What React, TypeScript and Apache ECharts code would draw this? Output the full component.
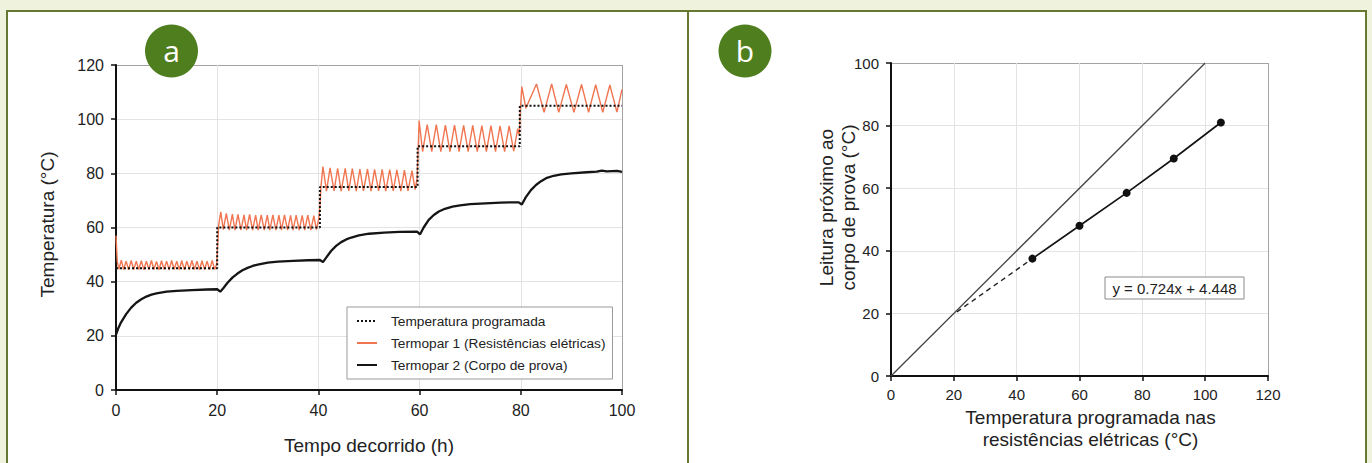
import React, { useEffect, useRef } from "react";
import * as echarts from "echarts";

// ---------- Panel a data ----------
const seriesNames = [
  "Temperatura programada",
  "Termopar 1 (Resistências elétricas)",
  "Termopar 2 (Corpo de prova)",
];

const programmed = [
  [0, 45], [20, 45], [20, 60], [40.3, 60], [40.3, 75], [59.6, 75],
  [59.6, 90], [79.8, 90], [79.8, 105], [100, 105],
];

const tc1Step1 = [
  [0, 57], [0.25, 47.5], [0.55, 44.6], [1.05, 47.9], [1.5, 44.5], [2.0, 47.6], [2.5, 44.4],
  [3.0, 47.8], [3.5, 44.5], [4.0, 47.6], [4.5, 44.5], [5.0, 47.7], [5.5, 44.4], [6.0, 47.6],
  [6.5, 44.5], [7.0, 47.8], [7.5, 44.5], [8.0, 47.5], [8.5, 44.4], [9.0, 47.7], [9.5, 44.5],
  [10.0, 47.6], [10.5, 44.4], [11.0, 47.8], [11.5, 44.5], [12.0, 47.6], [12.5, 44.5],
  [13.0, 47.7], [13.5, 44.4], [14.0, 47.6], [14.5, 44.5], [15.0, 47.8], [15.5, 44.5],
  [16.0, 47.6], [16.5, 44.4], [17.0, 47.7], [17.5, 44.5], [18.0, 47.6], [18.5, 44.4],
  [19.0, 47.8], [19.5, 44.5], [19.9, 46.5],
];
const tc1Step2 = [
  [20.0, 46.5], [20.3, 61], [20.7, 65.8], [21.2, 59.2], [21.8, 65.2], [22.4, 59], [23.0, 64.9],
  [23.5, 59], [24.1, 64.8], [24.7, 59], [25.3, 64.7], [25.8, 59], [26.4, 64.8], [27.0, 59],
  [27.6, 64.6], [28.1, 59], [28.7, 64.7], [29.3, 59], [29.9, 64.6], [30.4, 59], [31.0, 64.7],
  [31.6, 59], [32.2, 64.6], [32.7, 59], [33.3, 64.7], [33.9, 59], [34.5, 64.5], [35.0, 59],
  [35.6, 64.6], [36.2, 59], [36.8, 64.5], [37.3, 59], [37.9, 64.6], [38.5, 59], [39.1, 64.4],
  [39.6, 59.2], [40.1, 63.5],
];
const tc1Step3 = [
  [40.3, 68], [40.5, 75], [40.9, 82.5], [41.6, 73.4], [42.3, 82], [43.1, 73.5], [43.8, 81.8],
  [44.5, 73.4], [45.3, 81.8], [46.0, 73.5], [46.7, 81.7], [47.5, 73.4], [48.2, 81.6],
  [48.9, 73.5], [49.7, 81.6], [50.4, 73.4], [51.1, 81.5], [51.9, 73.5], [52.6, 81.5],
  [53.3, 73.4], [54.1, 81.4], [54.8, 73.5], [55.5, 81.3], [56.3, 73.4], [57.0, 81.2],
  [57.7, 73.5], [58.5, 81], [59.1, 74], [59.5, 78],
];
const tc1Step4 = [
  [59.7, 88], [59.9, 99.5], [60.6, 88], [61.5, 98], [62.4, 88], [63.3, 98], [64.2, 88],
  [65.1, 97.8], [66.0, 88], [66.9, 97.8], [67.8, 88], [68.7, 97.7], [69.6, 88], [70.5, 97.7],
  [71.4, 88], [72.3, 97.6], [73.2, 88], [74.1, 97.6], [75.0, 88], [75.9, 97.5], [76.8, 88],
  [77.7, 97.5], [78.6, 88.2], [79.4, 96.5], [79.7, 94],
];
const tc1Step5 = [
  [79.9, 103], [80.2, 112], [81.0, 104], [83.1, 113], [84.6, 102.5], [86.1, 113],
  [87.5, 102.5], [89.0, 112.8], [90.5, 102.5], [92.0, 112.8], [93.4, 102.5], [94.8, 112.7],
  [96.2, 102.5], [97.6, 112.6], [99.0, 102.6], [100, 111],
];

const tc2 = [
  [0, 20.5], [0.5, 23], [1, 25], [2, 28], [3, 30.4], [4, 32.2], [5, 33.5], [6, 34.5], [7, 35.2],
  [8, 35.7], [10, 36.3], [12, 36.6], [15, 36.9], [18, 37.1], [20, 37.2], [20.6, 36.3],
  [21.2, 37.6], [22, 39.5], [23, 41.5], [24, 43], [25, 44.2], [26, 45.1], [27, 45.8],
  [28, 46.3], [30, 47], [32, 47.4], [35, 47.7], [38, 47.9], [40.3, 48], [40.9, 47.2],
  [41.5, 48.8], [42.5, 51.3], [43.5, 53.2], [44.5, 54.6], [45.5, 55.6], [46.5, 56.3],
  [48, 57.1], [50, 57.7], [53, 58.1], [56, 58.4], [59.5, 58.5], [60.1, 57.5], [60.8, 60],
  [61.8, 62.8], [62.8, 64.6], [63.8, 65.9], [65, 66.9], [66.5, 67.7], [68, 68.2], [70, 68.6],
  [73, 68.9], [76, 69.2], [79.6, 69.3], [80.2, 68.5], [81, 71.2], [82, 73.8], [83, 75.7],
  [84, 77.1], [85, 78.2], [86.5, 79.1], [88, 79.6], [90, 80], [93, 80.4], [95, 80.6],
  [96, 81], [97, 80.7], [99, 80.9], [100, 80.5],
];

// ---------- Panel b data ----------
const setpointsB = [45, 60, 75, 90, 105];
const readingsB = [37.5, 48, 58.5, 69.5, 81];
const identityB = [[0, 0], [100, 100]];
const extrapolationB = [[21, 20.5], [45, 37.5]];
const equationText = "y = 0.724x + 4.448";

const FONT = '"Liberation Sans", Arial, Helvetica, sans-serif';
const GRID = "#e3e3e3";
const FRAME = "#a3a3a3";
const OLIVE = "#677831";
const CREAM = "#eff3dd";
const BADGE = "#4f7e1e";
const INK = "#222";
const CLEAR = "rgba(0,0,0,0)";

function splitColors(n: number) {
  const arr: string[] = [];
  for (let i = 0; i < n - 1; i++) arr.push(GRID);
  arr.push(FRAME);
  return arr;
}

export default function App() {
  const ref = useRef<HTMLDivElement>(null);
  useEffect(() => {
    document.body.style.margin = "0";
    if (!ref.current) return;
    const chart = echarts.init(ref.current, undefined, { renderer: "svg" });
    const tc1 = [...tc1Step1, ...tc1Step2, ...tc1Step3, ...tc1Step4, ...tc1Step5];
    const axisCommon = (fontSize: number, margin: number) => ({
      type: "value",
      axisLine: { show: true, onZero: false, lineStyle: { color: "#111", width: 2 } },
      axisTick: { show: true, length: 5, lineStyle: { color: "#111", width: 1.5 } },
      axisLabel: { fontSize, color: INK, margin, fontFamily: FONT },
      nameLocation: "middle",
      nameMoveOverlap: false,
      nameTextStyle: { fontSize: 19, color: INK, fontFamily: FONT, lineHeight: 22 },
    });
    const option: any = {
      animation: false,
      backgroundColor: "#ffffff",
      textStyle: { fontFamily: FONT },
      grid: [
        { left: 116, top: 65, width: 506, height: 325 },
        { left: 891, top: 63, width: 377, height: 313 },
      ],
      xAxis: [
        {
          ...axisCommon(16, 12),
          gridIndex: 0, min: 0, max: 100, interval: 20,
          splitLine: { show: true, lineStyle: { color: splitColors(6), width: 1 } },
          name: "Tempo decorrido (h)", nameGap: 44,
        },
        {
          ...axisCommon(15, 11),
          gridIndex: 1, min: 0, max: 120, interval: 20,
          splitLine: { show: true, lineStyle: { color: splitColors(7), width: 1 } },
          name: "Temperatura programada nas\nresistências elétricas (°C)", nameGap: 30,
          nameTextStyle: { fontSize: 19, color: INK, fontFamily: FONT, lineHeight: 22, padding: [0, 0, 0, 22] },
        },
      ],
      yAxis: [
        {
          ...axisCommon(16, 12),
          gridIndex: 0, min: 0, max: 120, interval: 20,
          splitLine: { show: true, lineStyle: { color: splitColors(7), width: 1 } },
          name: "Temperatura (°C)", nameGap: 58, nameRotate: 90,
          nameTextStyle: { fontSize: 19, color: INK, fontFamily: FONT, lineHeight: 22, padding: [0, 0, 0, 6] },
        },
        {
          ...axisCommon(15, 12),
          gridIndex: 1, min: 0, max: 100, interval: 20,
          splitLine: { show: true, lineStyle: { color: splitColors(6), width: 1 } },
          name: "Leitura próximo ao\ncorpo de prova (°C)", nameGap: 32, nameRotate: 90,
          nameTextStyle: { fontSize: 19, color: INK, fontFamily: FONT, lineHeight: 22, padding: [0, 0, 0, 24] },
        },
      ],
      legend: {
        data: seriesNames,
        orient: "vertical",
        left: 347,
        top: 307,
        itemWidth: 20,
        itemHeight: 14,
        itemGap: 8,
        padding: [7, 7, 7, 9],
        borderColor: "#9a9a9a",
        borderWidth: 1,
        backgroundColor: "#ffffff",
        selectedMode: false,
        itemStyle: { color: CLEAR, borderColor: CLEAR, borderWidth: 0 },
        textStyle: { fontSize: 13.7, color: INK, fontFamily: FONT, padding: [0, 0, 0, 9] },
      },
      series: [
        {
          name: seriesNames[1], type: "line", xAxisIndex: 0, yAxisIndex: 0, data: tc1,
          symbol: "none", lineStyle: { color: "#f07652", width: 1.4 }, itemStyle: { color: "#f07652" }, z: 2,
        },
        {
          name: seriesNames[0], type: "line", xAxisIndex: 0, yAxisIndex: 0, data: programmed,
          symbol: "none", lineStyle: { color: "#111", width: 2, type: [2, 2] }, itemStyle: { color: "#111" }, z: 3,
        },
        {
          name: seriesNames[2], type: "line", xAxisIndex: 0, yAxisIndex: 0, data: tc2,
          symbol: "none", lineStyle: { color: "#151515", width: 2.3 }, itemStyle: { color: "#151515" }, z: 4,
        },
        {
          name: "identidade", type: "line", xAxisIndex: 1, yAxisIndex: 1, data: identityB,
          symbol: "none", lineStyle: { color: "#444", width: 1.3 }, z: 2,
        },
        {
          name: "extrapolação", type: "line", xAxisIndex: 1, yAxisIndex: 1, data: extrapolationB,
          symbol: "none", lineStyle: { color: "#222", width: 1.4, type: [5, 4] }, z: 3,
        },
        {
          name: "leituras", type: "line", xAxisIndex: 1, yAxisIndex: 1,
          data: setpointsB.map((x, i) => [x, readingsB[i]]),
          symbol: "circle", symbolSize: 8, showSymbol: true,
          lineStyle: { color: "#151515", width: 1.7 }, itemStyle: { color: "#111" }, z: 4,
        },
      ],
      graphic: [
        { type: "rect", shape: { x: 0, y: 0, width: 1372, height: 10 }, style: { fill: CREAM }, z: 50 },
        { type: "rect", shape: { x: 0, y: 0, width: 6, height: 463 }, style: { fill: CREAM }, z: 50 },
        { type: "rect", shape: { x: 1367, y: 0, width: 5, height: 463 }, style: { fill: CREAM }, z: 50 },
        { type: "line", shape: { x1: 6, y1: 11, x2: 1367, y2: 11 }, style: { stroke: OLIVE, lineWidth: 2 }, z: 51 },
        { type: "line", shape: { x1: 7, y1: 10, x2: 7, y2: 463 }, style: { stroke: OLIVE, lineWidth: 2 }, z: 51 },
        { type: "line", shape: { x1: 688, y1: 10, x2: 688, y2: 463 }, style: { stroke: OLIVE, lineWidth: 2 }, z: 51 },
        { type: "line", shape: { x1: 1366, y1: 10, x2: 1366, y2: 463 }, style: { stroke: OLIVE, lineWidth: 2 }, z: 51 },
        { type: "circle", shape: { cx: 171.5, cy: 51, r: 26.5 }, style: { fill: BADGE }, z: 100 },
        {
          type: "text", x: 171.5, y: 50.5, z: 101,
          style: { text: "a", fill: "#ffffff", fontSize: 30, fontFamily: '"Open Sans", "Noto Sans", sans-serif', align: "center", verticalAlign: "middle" },
        },
        { type: "circle", shape: { cx: 745, cy: 51, r: 26.5 }, style: { fill: BADGE }, z: 100 },
        {
          type: "text", x: 745, y: 50.5, z: 101,
          style: { text: "b", fill: "#ffffff", fontSize: 30, fontFamily: '"Open Sans", "Noto Sans", sans-serif', align: "center", verticalAlign: "middle" },
        },
        { type: "rect", shape: { x: 1105, y: 277, width: 139, height: 22 }, style: { fill: "#ffffff", stroke: "#8a8a8a", lineWidth: 1 }, z: 100 },
        {
          type: "text", x: 1174.5, y: 288, z: 101,
          style: { text: equationText, fill: INK, fontSize: 15, fontFamily: FONT, align: "center", verticalAlign: "middle" },
        },
      ],
    };
    chart.setOption(option);
    return () => chart.dispose();
  }, []);
  return <div ref={ref} style={{ position: "absolute", left: 0, top: 0, width: 1372, height: 463 }} />;
}
